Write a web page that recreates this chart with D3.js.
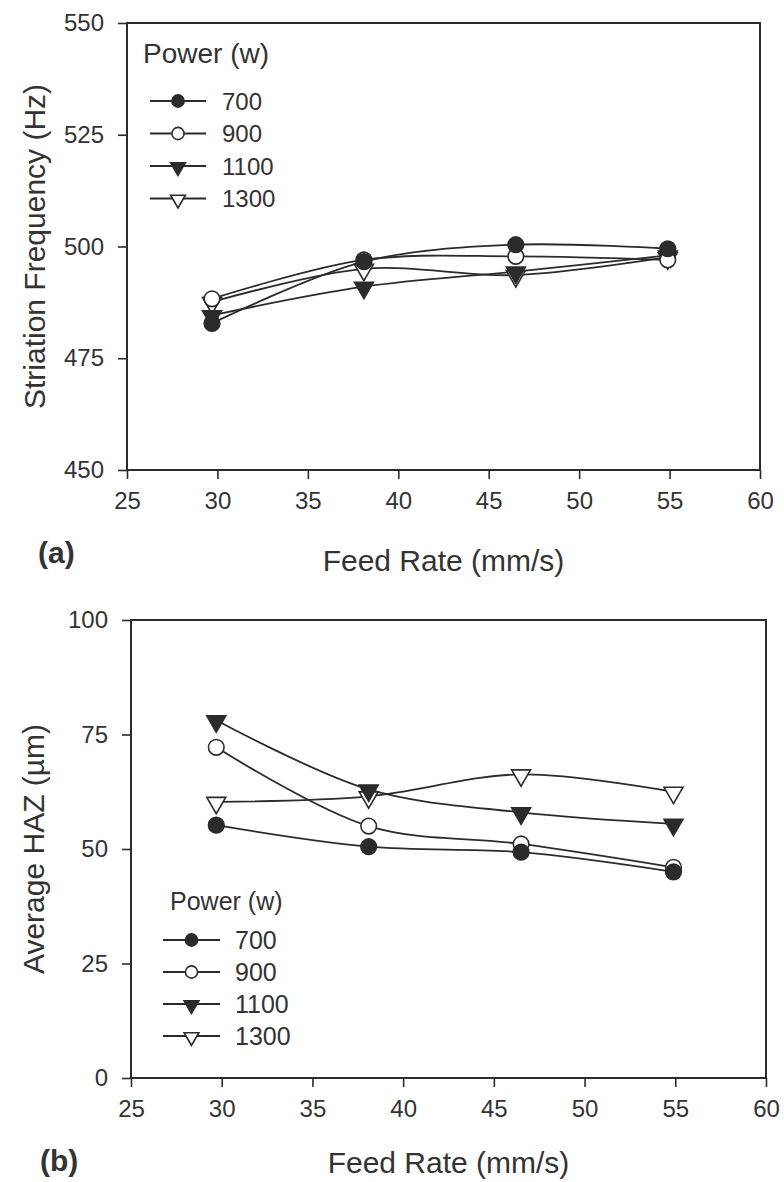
<!DOCTYPE html>
<html>
<head>
<meta charset="utf-8">
<script src="https://cdn.jsdelivr.net/npm/d3@7"></script>
<style>
  html, body { margin: 0; padding: 0; background: #fff; }
  svg { display: block; }
  text { font-family: "Liberation Sans", Arial, sans-serif; fill: #333; }
</style>
</head>
<body>
<svg id="chart" width="784" height="1182"></svg>
<script>
// ---------------- DATA ----------------
const feedRate = [29.7, 38.1, 46.5, 54.9];          // mm/s
const powerLabels = ["700", "900", "1100", "1300"];  // W
const markerTypes = ["filledCircle", "openCircle", "filledTriangle", "openTriangle"];

// (a) Striation frequency (Hz)
const freq700  = [482.8, 496.6, 500.4, 499.5];
const freq900  = [488.3, 497.0, 497.8, 497.0];
const freq1100 = [484.6, 491.0, 494.4, 498.0];
const freq1300 = [487.6, 495.0, 493.6, 497.6];

// (b) Average HAZ (µm)
const haz700  = [55.2, 50.5, 49.3, 45.0];
const haz900  = [72.2, 55.0, 51.1, 46.0];
const haz1100 = [78.1, 63.0, 58.0, 55.5];
const haz1300 = [60.3, 61.5, 66.3, 62.5];

const xTicks = [25, 30, 35, 40, 45, 50, 55, 60];
const yTicksA = [450, 475, 500, 525, 550];
const yTicksB = [0, 25, 50, 75, 100];

const seriesA = [freq700, freq900, freq1100, freq1300];
const seriesB = [haz700, haz900, haz1100, haz1300];

// ---------------- DRAWING ----------------
const ink = "#2b2b2b";
const svg = d3.select("#chart");

function drawMarker(g, type, x, y, scale) {
  const k = scale || 1;
  const filled = type.startsWith("filled");
  if (type.endsWith("Circle")) {
    g.append("circle").attr("cx", x).attr("cy", y).attr("r", 7.8 * k)
      .attr("fill", filled ? ink : "#fff").attr("stroke", ink).attr("stroke-width", 1.6);
  } else {
    g.append("path")
      .attr("d", d3.symbol().type(d3.symbolTriangle).size(155 * k * k)())
      .attr("transform", `translate(${x},${y + 1}) rotate(180)`)
      .attr("fill", filled ? ink : "#fff").attr("stroke", ink).attr("stroke-width", 1.6);
  }
}

function panel(cfg) {
  const g = svg.append("g");
  const x = d3.scaleLinear().domain([25, 60]).range([cfg.left, cfg.right]);
  const y = d3.scaleLinear().domain(cfg.yDomain).range([cfg.bottom, cfg.top]);

  // frame
  g.append("rect").attr("x", cfg.left).attr("y", cfg.top)
    .attr("width", cfg.right - cfg.left).attr("height", cfg.bottom - cfg.top)
    .attr("fill", "none").attr("stroke", ink).attr("stroke-width", 2);

  const xa = g.append("g").attr("transform", `translate(0,${cfg.bottom})`)
    .call(d3.axisBottom(x).tickValues(xTicks).tickSize(9).tickPadding(13).tickFormat(d3.format("d")));
  const ya = g.append("g").attr("transform", `translate(${cfg.left},0)`)
    .call(d3.axisLeft(y).tickValues(cfg.yTicks).tickSize(9).tickPadding(14).tickFormat(d3.format("d")));
  [xa, ya].forEach(a => {
    a.select(".domain").remove();
    a.selectAll("line").attr("stroke", ink).attr("stroke-width", 1.6);
    a.selectAll("text").attr("font-size", 24).attr("fill", "#3a3a3a")
      .style("font-family", '"Liberation Sans", Arial, sans-serif');
  });

  // lines
  const line = d3.line().x((d, i) => x(feedRate[i])).y(d => y(d)).curve(d3.curveCatmullRom.alpha(0.5));
  cfg.series.forEach(s => {
    g.append("path").attr("d", line(s)).attr("fill", "none")
      .attr("stroke", ink).attr("stroke-width", 1.8);
  });
  // markers (draw in reverse so 700 on top like the original)
  cfg.series.map((s, k) => ({ s, k })).reverse().forEach(({ s, k }) => {
    s.forEach((v, i) => drawMarker(g, markerTypes[k], x(feedRate[i]), y(v)));
  });

  // axis titles
  g.append("text").attr("x", (cfg.left + cfg.right) / 2).attr("y", cfg.xTitleY)
    .attr("text-anchor", "middle").attr("font-size", 30).text("Feed Rate (mm/s)");
  g.append("text").attr("transform", `translate(${cfg.yTitleX},${(cfg.top + cfg.bottom) / 2}) rotate(-90)`)
    .attr("text-anchor", "middle").attr("font-size", 30).text(cfg.yTitle);

  // panel label
  g.append("text").attr("x", cfg.tagX).attr("y", cfg.tagY)
    .attr("font-size", 30).attr("font-weight", "bold").text(cfg.tag);

  // legend
  const L = cfg.legend;
  g.append("text").attr("x", L.titleX).attr("y", L.titleY)
    .attr("font-size", L.titleSize).text("Power (w)");
  powerLabels.forEach((p, k) => {
    const ry = L.rowY0 + k * L.rowGap;
    g.append("line").attr("x1", L.lineX1).attr("x2", L.lineX2).attr("y1", ry).attr("y2", ry)
      .attr("stroke", ink).attr("stroke-width", 1.8);
    drawMarker(g, markerTypes[k], (L.lineX1 + L.lineX2) / 2, ry, 0.78);
    g.append("text").attr("x", L.textX).attr("y", ry).attr("dy", "0.36em")
      .attr("font-size", L.textSize).text(p);
  });
}

panel({
  left: 127, right: 760, top: 23, bottom: 470,
  yDomain: [450, 550], yTicks: yTicksA, series: seriesA,
  yTitle: "Striation Frequency (Hz)", yTitleX: 45, xTitleY: 571,
  tag: "(a)", tagX: 38, tagY: 563,
  legend: { titleX: 143, titleY: 63, titleSize: 28, rowY0: 101, rowGap: 32.5,
            lineX1: 150, lineX2: 206, textX: 222, textSize: 24 }
});

panel({
  left: 131, right: 766, top: 620, bottom: 1078,
  yDomain: [0, 100], yTicks: yTicksB, series: seriesB,
  yTitle: "Average HAZ (\u00b5m)", yTitleX: 44, xTitleY: 1173,
  tag: "(b)", tagX: 40, tagY: 1171,
  legend: { titleX: 170, titleY: 910, titleSize: 25, rowY0: 940, rowGap: 32,
            lineX1: 163, lineX2: 220, textX: 235, textSize: 25 }
});
</script>
</body>
</html>
